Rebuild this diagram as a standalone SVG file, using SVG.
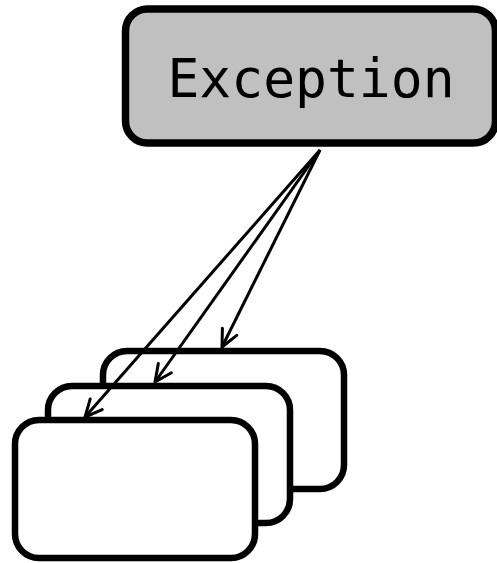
<svg xmlns="http://www.w3.org/2000/svg" width="497" height="563" viewBox="0 0 497 563">
<style>
.card{fill:#ffffff;stroke:#000;stroke-width:6.5}
.exc{fill:#c0c0c0;stroke:#000;stroke-width:7.5}
.lbl{font-family:"DejaVu Sans Mono",monospace;font-size:53px;fill:#000}
.conn{stroke:#000;stroke-width:3;fill:none;marker-end:url(#vee)}
</style>
<defs>
<marker id="vee" markerUnits="userSpaceOnUse" markerWidth="24" markerHeight="22" refX="19" refY="10" orient="auto" viewBox="0 0 24 20">
<path d="M2,2 L19,10 L2,18" fill="none" stroke="#000" stroke-width="3" stroke-linecap="round" stroke-linejoin="round"/>
</marker>
</defs>
<g id="exception">
<rect class="exc" x="125.5" y="9" width="370" height="134" rx="22"/>
<text class="lbl" x="311" y="97" text-anchor="middle">Exception</text>
</g>
<g id="card3"><rect class="card" x="103" y="351" width="241" height="138" rx="24"/></g>
<g id="card2"><rect class="card" x="48" y="386" width="242" height="137" rx="24"/></g>
<g id="card1"><rect class="card" x="15" y="420" width="240" height="138" rx="24"/></g>
<g id="connectors">
<line class="conn" x1="320" y1="150" x2="222" y2="347"/>
<line class="conn" x1="320" y1="150" x2="155" y2="382"/>
<line class="conn" x1="320" y1="150" x2="85" y2="417"/>
</g>
</svg>
